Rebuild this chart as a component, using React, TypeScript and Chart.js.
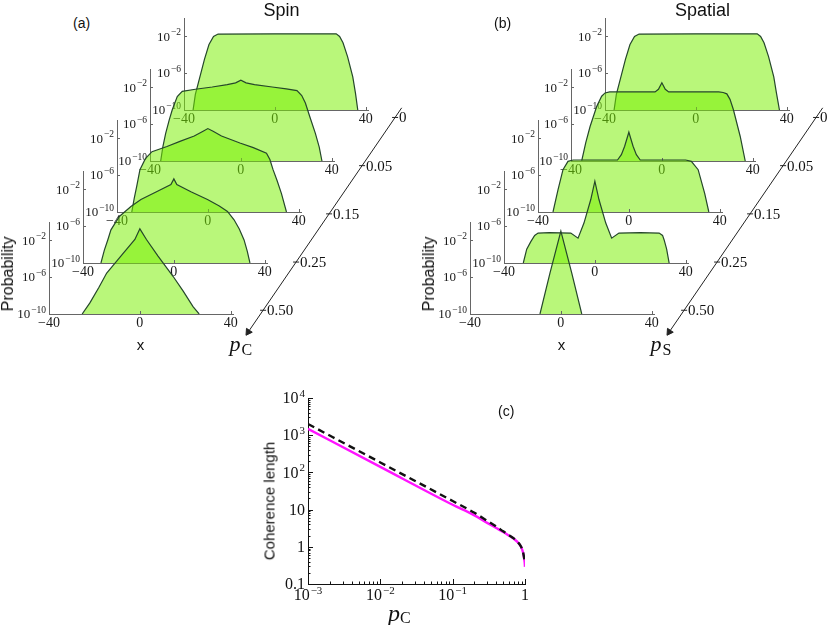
import React, { useEffect, useRef } from 'react';
import { Chart, registerables } from 'chart.js';

Chart.register(...registerables);

// ---------------- data ----------------
const pLabels = ['0', '0.05', '0.15', '0.25', '0.50'];
const sliceXTicks = [-40, 0, 40];
const sliceXLabels = [['−40', ''], ['0', ''], ['40', '']];
const sliceYTicks = [1e-10, 1e-6, 1e-2];
const sliceYLabels = [['10', '−10'], ['10', '−6'], ['10', '−2']];

// Spin (panel a), from back (p = 0) to front (p = 0.50)
const spinX0 = [-36, -35, -33, -31, -29, -27, -25, 0, 27, 28.5, 30, 32, 34.3, 35.5, 36.5];
const spinP0 = [1e-10, 5e-9, 4e-7, 3.2e-5, 1.3e-3, 1e-2, 1.8e-2, 1.9e-2, 1.9e-2, 1e-2, 2e-3, 6.3e-5, 4e-7, 6.3e-9, 1e-10];
const spinX1 = [-35.3, -34.3, -33.1, -31.5, -30.2, -28, -25.8, -20, -12.6, -6, -2.3, 0, 2.3, 6, 13.8, 20, 24.7, 26.8, 28.4, 30.5, 32.8, 34.5, 35.7];
const spinP1 = [1e-10, 4e-9, 1e-7, 3.2e-6, 3.7e-5, 1e-3, 3.7e-3, 6.3e-3, 1.1e-2, 2e-2, 3.1e-2, 6e-2, 3.1e-2, 2e-2, 1.1e-2, 7e-3, 4.5e-3, 1.3e-3, 2e-4, 5e-6, 1e-7, 3.2e-9, 1e-10];
const spinX2 = [-33.5, -32.4, -31.3, -29.9, -27.5, -24.6, -18, -12.3, -6, -2.1, 0, 2.3, 6, 14.1, 20, 25.8, 27.3, 28.7, 30.5, 32.4, 34.6];
const spinP2 = [1e-10, 3.2e-9, 6.3e-8, 4e-6, 6.3e-5, 3.6e-4, 1.3e-3, 4.8e-3, 1.8e-2, 6e-2, 1.17e-1, 6e-2, 1.8e-2, 3.2e-3, 1e-3, 2.5e-4, 5e-5, 4e-6, 2.5e-7, 1e-8, 1e-10];
const spinX3 = [-32.1, -30.6, -29.1, -27.7, -24, -18.9, -14.5, -7.2, -1.3, 0, 1.3, 7.5, 14.8, 20, 23.6, 26.5, 28.8, 30.9, 32.3, 33.5];
const spinP3 = [1e-10, 2.5e-9, 3.2e-8, 4e-7, 1.15e-5, 1.4e-4, 7.9e-4, 6.3e-3, 3.3e-2, 1.4e-1, 3.3e-2, 5.6e-3, 7.9e-4, 1.6e-4, 4e-5, 5e-6, 5e-7, 3.2e-8, 2e-9, 1e-10];
const spinX4 = [-25.4, -22, -18, -14.6, -8, -2.2, 0, 2.9, 8, 14.6, 19, 23.4, 26.1];
const spinP4 = [1e-10, 1.6e-9, 8e-8, 2.8e-6, 2.5e-4, 1.26e-2, 1.8e-1, 1.26e-2, 2e-4, 1.26e-6, 3.2e-8, 6.3e-10, 1e-10];

// Spatial (panel b), from back (p = 0) to front (p = 0.50)
const spatialX0 = [-36, -35, -33, -31, -29, -27, -25, 0, 27, 28.5, 30, 32, 34.3, 35.5, 36.8];
const spatialP0 = [1e-10, 5e-9, 4e-7, 3.2e-5, 1.3e-3, 1e-2, 1.8e-2, 1.9e-2, 1.9e-2, 1e-2, 2e-3, 6.3e-5, 4e-7, 6.3e-9, 1e-10];
const spatialX1 = [-35.3, -33.5, -31.6, -28.7, -26.5, -25, -23, -3, -1.5, 0, 1.5, 3, 25, 27, 28.6, 30, 31.5, 34.5, 36.7];
const spatialP1 = [1e-10, 1e-8, 5.6e-7, 8.5e-5, 1.1e-3, 2.5e-3, 3.2e-3, 3.2e-3, 6.3e-3, 3.2e-2, 6.3e-3, 3.2e-3, 3.2e-3, 2.8e-3, 2e-3, 5e-4, 3.7e-5, 4.6e-8, 1e-10];
const spatialX2 = [-33.4, -31.2, -29, -26.8, -24.5, -5, -3.3, -1.85, 0, 1.85, 3.3, 5, 25, 27.5, 30.5, 33.4, 35.2];
const spatialP2 = [1e-10, 2.5e-8, 4e-6, 3.2e-5, 4.5e-5, 4.5e-5, 1.7e-4, 1.4e-3, 4.7e-2, 1.4e-3, 1.7e-4, 4.5e-5, 4.5e-5, 3.2e-5, 4e-6, 1e-8, 1e-10];
const spatialX3 = [-31.5, -30, -28.2, -26.5, -25, -20, -10.6, -7.4, -4.8, -1.8, 0, 1.8, 4.8, 7.4, 10.6, 20, 28.3, 29.8, 30.5, 31.6, 32.7];
const spatialP3 = [1e-10, 3.2e-9, 2.1e-8, 1e-7, 1.8e-7, 2e-7, 1.8e-7, 5e-8, 2.2e-6, 7.9e-4, 7.9e-2, 7.9e-4, 2.2e-6, 5e-8, 1.8e-7, 2e-7, 1.8e-7, 1e-7, 3.2e-8, 3.2e-9, 1e-10];
const spatialX4 = [-9.2, -4.8, 0, 4.8, 9.2];
const spatialP4 = [1e-10, 2.8e-6, 1e-1, 2.8e-6, 1e-10];

// Panel c: coherence length vs p
const coherenceP = [0.001, 0.01, 0.1, 0.2, 0.3, 0.4, 0.5, 0.6, 0.7, 0.8, 0.88, 0.94, 0.97, 0.99, 1];
const coherenceSolid = [1480, 141, 13.5, 7.0, 4.4, 3.2, 2.5, 2.0, 1.65, 1.3, 1.0, 0.7, 0.5, 0.38, 0.29];
const coherenceDashed = [2000, 185, 17, 8.2, 5.0, 3.5, 2.6, 2.05, 1.68, 1.32, 1.02, 0.72, 0.52, 0.42, 0.35];
const cXDecades = [-3, -2, -1, 0];
const cXLabels = [['10', '−3'], ['10', '−2'], ['10', '−1'], ['1', '']];
const cYDecades = [-1, 0, 1, 2, 3, 4];
const cYLabels = [['0.1', ''], ['1', ''], ['10', ''], ['10', '2'], ['10', '3'], ['10', '4']];
const mantissas = [1, 2, 3, 4, 5, 6, 7, 8, 9];

const spinSlices = [[spinX0, spinP0], [spinX1, spinP1], [spinX2, spinP2], [spinX3, spinP3], [spinX4, spinP4]];
const spatialSlices = [[spatialX0, spatialP0], [spatialX1, spatialP1], [spatialX2, spatialP2], [spatialX3, spatialP3], [spatialX4, spatialP4]];

// ---------------- style / layout ----------------
const SERIF = '"Liberation Serif", "DejaVu Serif", serif';
const SANS = '"Liberation Sans", Arial, sans-serif';
const FILL = 'rgba(120, 240, 0, 0.52)';
const CURVE = '#25472a';
const AXIS = '#666';

const S_YAXIS_W = 40;
const S_XAXIS_H = 24;
const S_PAD_T = 8;
const S_PAD_R = 14;
const S_PLOT_W = 184;
const S_PLOT_H = 92;
const S_CANVAS_W = S_YAXIS_W + S_PLOT_W + S_PAD_R;
const S_CANVAS_H = S_PAD_T + S_PLOT_H + S_XAXIS_H;
const STEP_X = -33.75;
const STEP_Y = 51;

const logDecade = (v: number) => {
  const lg = Math.log10(v);
  const r = Math.round(lg);
  return Math.abs(lg - r) < 1e-6 ? r : null;
};

const inTicks = {
  id: 'inTicks',
  afterDatasetsDraw(chart: any, _args: any, opts: any) {
    const { ctx, chartArea: a, scales } = chart;
    const xs = scales.x;
    const ys = scales.y;
    const isMajor = (v: number, sc: any) => sc.type !== 'logarithmic' || logDecade(v) !== null;
    ctx.save();
    ctx.strokeStyle = opts.color || '#000';
    ctx.lineWidth = 1;
    ctx.beginPath();
    for (const t of xs.ticks) {
      const px = Math.round(xs.getPixelForValue(t.value)) + 0.5;
      const L = isMajor(t.value, xs) ? opts.major : opts.minor;
      ctx.moveTo(px, a.bottom);
      ctx.lineTo(px, a.bottom - L);
    }
    for (const t of ys.ticks) {
      const py = Math.round(ys.getPixelForValue(t.value)) + 0.5;
      const L = isMajor(t.value, ys) ? opts.major : opts.minor;
      ctx.moveTo(a.left, py);
      ctx.lineTo(a.left + L, py);
    }
    ctx.stroke();
    ctx.restore();
  },
};

// tick labels with a raised exponent, placed at the scales' tick pixels
function makeSupLabels(
  getX: (v: number, i: number) => string[] | null,
  getY: (v: number, i: number) => string[] | null,
  f: { xBase: number; yBase: number; sup: number; xPad: number; yPad: number; color: string }
) {
  return {
    id: 'supLabels',
    afterDraw(chart: any) {
      const { ctx, chartArea: a, scales } = chart;
      ctx.save();
      ctx.fillStyle = f.color;
      ctx.textBaseline = 'alphabetic';
      ctx.textAlign = 'left';
      const widths = (lab: string[], base: number) => {
        ctx.font = `${base}px ${SERIF}`;
        const w1 = ctx.measureText(lab[0]).width;
        ctx.font = `${f.sup}px ${SERIF}`;
        const w2 = lab[1] ? ctx.measureText(lab[1]).width + 1 : 0;
        return [w1, w2];
      };
      const draw = (lab: string[], base: number, x: number, baseline: number) => {
        const [w1] = widths(lab, base);
        ctx.font = `${base}px ${SERIF}`;
        ctx.fillText(lab[0], x, baseline);
        if (lab[1]) {
          ctx.font = `${f.sup}px ${SERIF}`;
          ctx.fillText(lab[1], x + w1 + 1, baseline - base * 0.4);
        }
      };
      scales.x.ticks.forEach((t: any, i: number) => {
        const lab = getX(t.value, i);
        if (!lab) return;
        const [w1, w2] = widths(lab, f.xBase);
        const px = scales.x.getPixelForValue(t.value);
        draw(lab, f.xBase, px - (w1 + w2) / 2, a.bottom + f.xPad + f.xBase * 0.7);
      });
      scales.y.ticks.forEach((t: any, i: number) => {
        const lab = getY(t.value, i);
        if (!lab) return;
        const [w1, w2] = widths(lab, f.yBase);
        const py = scales.y.getPixelForValue(t.value);
        draw(lab, f.yBase, a.left - f.yPad - w1 - w2, py + f.yBase * 0.33);
      });
      ctx.restore();
    },
  };
}

function Slice({ xs, ps, axisX, bottom }: { xs: number[]; ps: number[]; axisX: number; bottom: number }) {
  const ref = useRef<HTMLCanvasElement>(null);
  useEffect(() => {
    const labels = makeSupLabels(
      (_v, i) => sliceXLabels[i] || null,
      (_v, i) => sliceYLabels[i] || null,
      { xBase: 14, yBase: 13, sup: 9.5, xPad: 3, yPad: 3, color: '#1a1a1a' }
    );
    const chart = new Chart(ref.current as HTMLCanvasElement, {
      type: 'line',
      data: {
        datasets: [
          {
            data: xs.map((x, i) => ({ x, y: ps[i] })),
            borderColor: CURVE,
            borderWidth: 1.2,
            backgroundColor: FILL,
            fill: 'start',
            pointRadius: 0,
            tension: 0,
          },
        ],
      },
      options: {
        animation: false,
        responsive: false,
        events: [],
        layout: { padding: { left: 0, right: S_PAD_R, top: S_PAD_T, bottom: 0 } },
        plugins: {
          legend: { display: false },
          tooltip: { enabled: false },
          inTicks: { major: 3, minor: 3, color: AXIS },
        },
        scales: {
          x: {
            type: 'linear',
            min: -40,
            max: 41,
            afterBuildTicks: (s: any) => {
              s.ticks = sliceXTicks.map((v) => ({ value: v }));
            },
            afterFit: (s: any) => {
              s.height = S_XAXIS_H;
            },
            grid: { display: false, drawTicks: false },
            border: { display: true, color: AXIS, width: 1 },
            ticks: { display: false },
          },
          y: {
            type: 'logarithmic',
            min: 1e-10,
            max: 1,
            afterBuildTicks: (s: any) => {
              s.ticks = sliceYTicks.map((v) => ({ value: v }));
            },
            afterFit: (s: any) => {
              s.width = S_YAXIS_W;
            },
            grid: { display: false, drawTicks: false },
            border: { display: true, color: AXIS, width: 1 },
            ticks: { display: false },
          },
        },
      } as any,
      plugins: [inTicks, labels],
    } as any);
    return () => chart.destroy();
  }, [xs, ps]);
  return (
    <canvas
      ref={ref}
      width={S_CANVAS_W}
      height={S_CANVAS_H}
      style={{ position: 'absolute', left: Math.round(axisX - S_YAXIS_W), top: Math.round(bottom - S_PAD_T - S_PLOT_H) }}
    />
  );
}

const PA_MIN = -0.3;
const PA_MAX = 4.7;
const PA_LINE_START = -0.2;
const PA_LINE_END = 4.45;
const PA_ARROW = 4.45;
const PA_W = 170;
const PA_H = 251;
const PA_PAD_R = 45;

function PAxis({ left, top, labels }: { left: number; top: number; labels: string[] }) {
  const ref = useRef<HTMLCanvasElement>(null);
  useEffect(() => {
    const labelPlugin = {
      id: 'pLabels',
      afterDatasetsDraw(chart: any) {
        const meta = chart.getDatasetMeta(1);
        const ctx = chart.ctx;
        ctx.save();
        ctx.font = `15px ${SERIF}`;
        ctx.fillStyle = '#111';
        ctx.textBaseline = 'middle';
        meta.data.forEach((el: any, i: number) => ctx.fillText(labels[i], el.x + 4, el.y + 1));
        ctx.restore();
      },
    };
    const chart = new Chart(ref.current as HTMLCanvasElement, {
      type: 'scatter',
      data: {
        datasets: [
          {
            data: [
              { x: PA_LINE_START, y: PA_LINE_START },
              { x: PA_LINE_END, y: PA_LINE_END },
            ],
            showLine: true,
            borderColor: '#222',
            borderWidth: 1,
            pointRadius: 0,
          },
          {
            data: labels.map((_l, i) => ({ x: i, y: i })),
            showLine: false,
            pointStyle: 'line',
            pointRadius: 3,
            pointBorderColor: '#222',
            pointBorderWidth: 1,
          },
          {
            data: [{ x: PA_ARROW, y: PA_ARROW }],
            showLine: false,
            pointStyle: 'triangle',
            pointRadius: 4,
            pointRotation: 214,
            pointBackgroundColor: '#222',
            pointBorderColor: '#222',
            pointBorderWidth: 1,
          },
        ],
      },
      options: {
        animation: false,
        responsive: false,
        events: [],
        layout: { padding: { left: 0, right: PA_PAD_R, top: 0, bottom: 0 } },
        plugins: { legend: { display: false }, tooltip: { enabled: false } },
        scales: {
          x: { type: 'linear', min: PA_MIN, max: PA_MAX, reverse: true, display: false },
          y: { type: 'linear', min: PA_MIN, max: PA_MAX, reverse: true, display: false },
        },
      } as any,
      plugins: [labelPlugin],
    } as any);
    return () => chart.destroy();
  }, [labels]);
  return (
    <canvas ref={ref} width={PA_W + PA_PAD_R} height={PA_H} style={{ position: 'absolute', left, top }} />
  );
}

const C_LEFT = 258;
const C_TOP = 388;
const C_YAXIS_W = 50;
const C_XAXIS_H = 30;
const C_PAD_T = 10;
const C_PAD_R = 15;
const C_W = 282;
const C_H = 226;

function CoherenceChart() {
  const ref = useRef<HTMLCanvasElement>(null);
  useEffect(() => {
    const xTickVals: number[] = [];
    cXDecades.forEach((e) => {
      if (e === cXDecades[cXDecades.length - 1]) xTickVals.push(10 ** e);
      else mantissas.forEach((m) => xTickVals.push(m * 10 ** e));
    });
    const yTickVals: number[] = [];
    cYDecades.forEach((e) => {
      if (e === cYDecades[cYDecades.length - 1]) yTickVals.push(10 ** e);
      else mantissas.forEach((m) => yTickVals.push(m * 10 ** e));
    });
    const labels = makeSupLabels(
      (v) => {
        const d = logDecade(v);
        return d === null ? null : cXLabels[cXDecades.indexOf(d)];
      },
      (v) => {
        const d = logDecade(v);
        return d === null ? null : cYLabels[cYDecades.indexOf(d)];
      },
      { xBase: 16, yBase: 16, sup: 11, xPad: 5, yPad: 3, color: '#111' }
    );
    const chart = new Chart(ref.current as HTMLCanvasElement, {
      type: 'line',
      data: {
        datasets: [
          {
            data: coherenceP.map((p, i) => ({ x: p, y: coherenceDashed[i] })),
            borderColor: '#111',
            borderWidth: 2.4,
            borderDash: [7, 4.5],
            pointRadius: 0,
            fill: false,
            cubicInterpolationMode: 'monotone',
          },
          {
            data: coherenceP.map((p, i) => ({ x: p, y: coherenceSolid[i] })),
            borderColor: '#ff14ff',
            borderWidth: 2.4,
            pointRadius: 0,
            fill: false,
            cubicInterpolationMode: 'monotone',
          },
        ],
      },
      options: {
        animation: false,
        responsive: false,
        events: [],
        layout: { padding: { left: 0, right: C_PAD_R, top: C_PAD_T, bottom: 0 } },
        plugins: {
          legend: { display: false },
          tooltip: { enabled: false },
          inTicks: { major: 5, minor: 2.5, color: '#111' },
        },
        scales: {
          x: {
            type: 'logarithmic',
            min: 1e-3,
            max: 1,
            afterBuildTicks: (s: any) => {
              s.ticks = xTickVals.map((v) => ({ value: v }));
            },
            afterFit: (s: any) => {
              s.height = C_XAXIS_H;
            },
            grid: { display: false, drawTicks: false },
            border: { display: true, color: '#111', width: 1 },
            ticks: { display: false },
          },
          y: {
            type: 'logarithmic',
            min: 0.1,
            max: 1e4,
            afterBuildTicks: (s: any) => {
              s.ticks = yTickVals.map((v) => ({ value: v }));
            },
            afterFit: (s: any) => {
              s.width = C_YAXIS_W;
            },
            grid: { display: false, drawTicks: false },
            border: { display: true, color: '#111', width: 1 },
            ticks: { display: false },
          },
        },
      } as any,
      plugins: [inTicks, labels],
    } as any);
    return () => chart.destroy();
  }, []);
  return <canvas ref={ref} width={C_W} height={C_H} style={{ position: 'absolute', left: C_LEFT, top: C_TOP }} />;
}

function Txt({ style, children }: { style: React.CSSProperties; children: React.ReactNode }) {
  return <div style={{ position: 'absolute', whiteSpace: 'nowrap', lineHeight: 1, color: '#111', ...style }}>{children}</div>;
}

function Panel({ slices, backAxisX, title, tag, sub, dx }: { slices: number[][][]; backAxisX: number; title: string; tag: string; sub: string; dx: number }) {
  return (
    <>
      {slices.map((s, i) => (
        <Slice key={i} xs={s[0]} ps={s[1]} axisX={backAxisX + STEP_X * i} bottom={110 + STEP_Y * i} />
      ))}
      <PAxis left={235 + dx} top={98} labels={pLabels} />
      <Txt style={{ left: 73 + dx, top: 16, fontFamily: SANS, fontSize: 14 }}>{tag}</Txt>
      <Txt style={{ left: 231.5 + dx, top: 1, width: 100, textAlign: 'center', fontFamily: SANS, fontSize: 18 }}>{title}</Txt>
      <Txt style={{ left: 8 + dx, top: 273.5, fontFamily: SANS, fontSize: 16, transform: 'translate(-50%, -50%) rotate(-90deg)' }}>Probability</Txt>
      <Txt style={{ left: 130.5 + dx, top: 337, width: 20, textAlign: 'center', fontFamily: SANS, fontSize: 15 }}>x</Txt>
      <Txt style={{ left: 229.5 + dx, top: 333, fontFamily: SERIF, fontSize: 22, fontStyle: 'italic' }}>p</Txt>
      <Txt style={{ left: 241.5 + dx, top: 341.5, fontFamily: SERIF, fontSize: 16 }}>{sub}</Txt>
    </>
  );
}

export default function App() {
  return (
    <div style={{ position: 'absolute', left: 0, top: 0, width: 830, height: 625, overflow: 'hidden', background: '#fff' }}>
      <Panel slices={spinSlices} backAxisX={184} title="Spin" tag="(a)" sub="C" dx={0} />
      <Panel slices={spatialSlices} backAxisX={605} title="Spatial" tag="(b)" sub="S" dx={421} />
      <CoherenceChart />
      <Txt style={{ left: 498, top: 403.5, fontFamily: SANS, fontSize: 14 }}>(c)</Txt>
      <Txt style={{ left: 269, top: 500.5, fontFamily: SANS, fontSize: 15, transform: 'translate(-50%, -50%) rotate(-90deg)' }}>Coherence length</Txt>
      <Txt style={{ left: 388, top: 600.5, fontFamily: SERIF, fontSize: 24, fontStyle: 'italic' }}>p</Txt>
      <Txt style={{ left: 400, top: 610, fontFamily: SERIF, fontSize: 16 }}>C</Txt>
    </div>
  );
}
